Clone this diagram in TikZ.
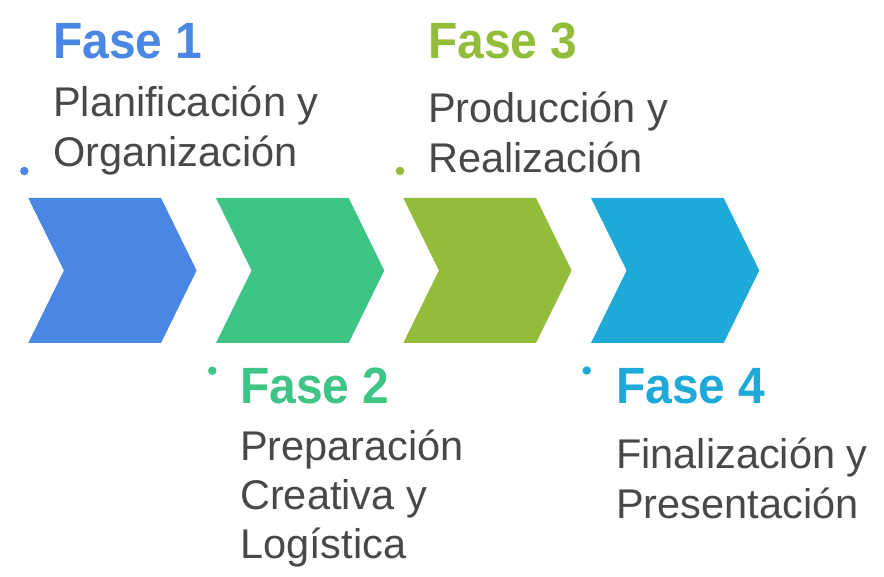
\documentclass[tikz,border=0pt]{standalone}
\usepackage{fontspec}
\setmainfont{Liberation Sans}
\newfontfamily\headfont[FakeStretch=0.94]{Liberation Sans}
\definecolor{cblue}{HTML}{4A86E4}
\definecolor{cgreen}{HTML}{3EC585}
\definecolor{clime}{HTML}{92BC3A}
\definecolor{ccyan}{HTML}{1FA9D8}
\definecolor{ctext}{HTML}{484848}
\begin{document}
\begin{tikzpicture}[x=1pt,y=-1pt,
  head/.style={anchor=base west,inner sep=0pt,font=\headfont\bfseries\fontsize{51}{60}\selectfont},
  body/.style={anchor=base west,inner sep=0pt,align=left,text=ctext,font=\fontsize{41.5}{50}\selectfont},
  dotmark/.style={circle,inner sep=0pt,minimum size=8.5pt}]
\useasboundingbox (0,0) rectangle (884,577);
\foreach \L/\c in {28.3/cblue,216/cgreen,403.3/clime,591/ccyan}{
  \fill[\c] (\L,198) -- (\L+132.7,198) -- (\L+168.3,270.5) -- (\L+132.7,343)
    -- (\L,343) -- (\L+35.6,270.5) -- cycle;
}
% Fase 1
\node[dotmark,fill=cblue] (d1) at (24.3,171) {};
\node[head,text=cblue] (h1) at (53,59) {Fase 1};
\node[body] (b1) at (53,166.7) {Planificación y\\Organización};
% Fase 3
\node[dotmark,fill=clime] (d3) at (400,171) {};
\node[head,text=clime] (h3) at (428,59) {Fase 3};
\node[body] (b3) at (428,172.7) {Producción y\\Realización};
% Fase 2
\node[dotmark,fill=cgreen] (d2) at (212.3,370.7) {};
\node[head,text=cgreen] (h2) at (240,403) {Fase 2};
\node[body,font=\fontsize{41.5}{49}\selectfont] (b2) at (240,558.3) {Preparación\\Creativa y\\Logística};
% Fase 4
\node[dotmark,fill=ccyan] (d4) at (586.7,370.5) {};
\node[head,text=ccyan] (h4) at (616,403) {Fase 4};
\node[body] (b4) at (616,518.3) {Finalización y\\Presentación};
\end{tikzpicture}
\end{document}
